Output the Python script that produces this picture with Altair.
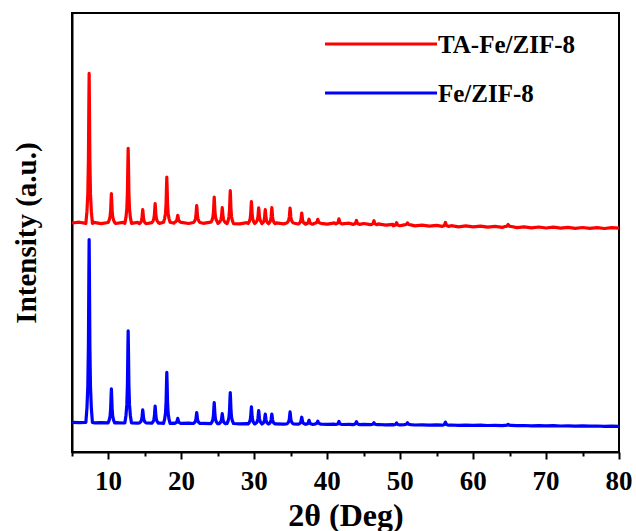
import altair as alt
import pandas as pd

# ---------------- data ----------------
series_names = ["TA-Fe/ZIF-8", "Fe/ZIF-8"]
series_colors = ["#ff0000", "#0000ff"]

x_ticks = [5, 10, 15, 20, 25, 30, 35, 40, 45, 50, 55, 60, 65, 70, 75, 80]
x_labels = [10, 20, 30, 40, 50, 60, 70, 80]

# diffraction peak positions (2theta, deg) and heights above baseline (a.u.)
peak_pos = [7.35, 10.4, 12.7, 14.7, 16.4, 18.0, 19.5, 22.1, 24.5, 25.6, 26.7,
            29.6, 30.6, 31.5, 32.4, 34.9, 36.5, 37.5, 38.7, 41.6, 44.0, 46.4,
            49.5, 51.0, 56.2, 64.8]
red_height = [150, 29, 75, 14, 19, 45, 7, 17, 25, 15, 33,
              22, 15, 14, 16, 15, 11, 5, 4, 5, 4, 4,
              3, 2, 4, 2]
blue_height = [183, 34, 92, 13, 17, 51, 5, 11, 21, 10, 31,
               17, 13, 10, 10, 12, 7, 4, 3, 3, 3, 2,
               2, 2, 3, 1]

# peak profile (offset in deg, fraction of height)
peak_offsets = [-0.45, -0.3, -0.18, -0.1, -0.04, 0.0, 0.04, 0.1, 0.18, 0.3, 0.45]
peak_profile = [0.0, 0.08, 0.2, 0.42, 0.8, 1.0, 0.8, 0.42, 0.2, 0.08, 0.0]

# baselines, one value per degree from 5 to 80
base_start = 5
red_base = [229.0, 229.8, 228.6, 229.6, 228.4, 229.5, 228.5, 229.7, 228.7, 229.6,
            228.3, 229.4, 228.6, 229.8, 228.8, 229.7, 228.5, 229.5, 228.7, 229.8,
            228.6, 229.4, 228.4, 228.2, 229.3, 228.5, 229.2, 228.3, 229.1, 228.1,
            229.0, 228.0, 228.8, 227.8, 228.7, 227.8, 229.1, 228.1, 228.8, 227.6,
            228.5, 227.3, 228.1, 226.8, 227.6, 226.3, 227.1, 226.1, 226.8, 225.8,
            226.6, 225.6, 226.3, 225.2, 226.1, 225.1, 225.9, 224.8, 225.6, 224.6,
            225.5, 224.4, 225.2, 224.2, 225.0, 224.0, 224.8, 223.9, 224.7, 223.7,
            224.5, 223.6, 224.4, 223.5, 224.3, 223.8]
blue_base = [29.6, 29.3, 29.5, 29.2, 29.4, 29.1, 29.3, 29.0, 29.2, 28.9,
             29.1, 28.8, 29.0, 28.7, 28.9, 28.6, 28.8, 28.5, 28.7, 28.4,
             28.6, 28.3, 28.5, 28.2, 28.4, 28.1, 28.3, 28.0, 28.2, 27.9,
             28.1, 27.8, 28.0, 27.7, 27.9, 27.6, 27.8, 27.5, 27.7, 27.4,
             27.6, 27.3, 27.5, 27.2, 27.4, 27.1, 27.3, 27.0, 27.2, 26.9,
             27.1, 26.8, 27.0, 26.7, 26.9, 26.6, 26.8, 26.5, 26.7, 26.4,
             26.6, 26.3, 26.5, 26.2, 26.4, 26.1, 26.3, 26.0, 26.2, 25.9,
             26.1, 25.8, 26.0, 25.7, 25.9, 25.6]


def build(name, base, heights):
    rows = []
    half = max(abs(o) for o in peak_offsets)
    for i, b in enumerate(base):
        x = base_start + i
        if all(abs(x - p) > half for p in peak_pos):
            rows.append((float(x), b))
    for p, h in zip(peak_pos, heights):
        b0 = base[int(round(p)) - base_start]
        for o, f in zip(peak_offsets, peak_profile):
            rows.append((p + o, b0 + f * h))
    rows.sort()
    return pd.DataFrame({
        "x": [r[0] for r in rows],
        "y": [r[1] for r in rows],
        "series": name,
        "order": list(range(len(rows))),
    })


df = pd.concat([build(series_names[0], red_base, red_height),
                build(series_names[1], blue_base, blue_height)],
               ignore_index=True)

FONT = "Liberation Serif"

x_scale = alt.Scale(domain=[5, 80], nice=False, zero=False)
y_scale = alt.Scale(domain=[0, 439], nice=False, zero=False)

x_axis = alt.Axis(
    values=x_ticks,
    tickSize={"condition": {"test": "datum.value % 10 === 0", "value": 7}, "value": 4},
    tickWidth=2, tickColor="black",
    domainColor="black", domainWidth=2, grid=False,
    labels=False,
    title="2θ (Deg)", titleFont=FONT, titleFontSize=32,
    titleFontWeight="bold", titleColor="black", titlePadding=40,
)
y_axis = alt.Axis(
    labels=False, ticks=False, grid=False,
    domainColor="black", domainWidth=2,
    title="Intensity (a.u.)", titleFont=FONT, titleFontSize=29,
    titleFontWeight="bold", titleColor="black", titlePadding=31,
)

lines = alt.Chart(df).mark_line(strokeWidth=3.2, strokeJoin="round").encode(
    x=alt.X("x:Q", scale=x_scale, axis=x_axis, title="2θ (Deg)"),
    y=alt.Y("y:Q", scale=y_scale, axis=y_axis, title="Intensity (a.u.)"),
    color=alt.Color("series:N", scale=alt.Scale(domain=series_names, range=series_colors),
                    legend=None),
    order="order:Q",
)

tick_labels = alt.Chart(pd.DataFrame({"x": x_labels})).mark_text(
    align="center", baseline="alphabetic", font=FONT, fontSize=27,
    fontWeight="bold", color="black").encode(
    x=alt.X("x:Q", scale=x_scale, axis=x_axis, title="2θ (Deg)"),
    y=alt.value(477),
    text=alt.Text("x:Q", format="d"),
)

leg_df_red = pd.DataFrame({"name": [series_names[0]]})
leg_df_blue = pd.DataFrame({"name": [series_names[1]]})

rule_red = alt.Chart(leg_df_red).mark_rule(color=series_colors[0], strokeWidth=3).encode(
    x=alt.value(253), x2=alt.value(365), y=alt.value(31))
rule_blue = alt.Chart(leg_df_blue).mark_rule(color=series_colors[1], strokeWidth=3).encode(
    x=alt.value(253), x2=alt.value(365), y=alt.value(80))
text_red = alt.Chart(leg_df_red).mark_text(
    align="left", baseline="middle", font=FONT, fontSize=25, fontWeight="bold",
    color="black").encode(x=alt.value(366), y=alt.value(32), text="name:N")
text_blue = alt.Chart(leg_df_blue).mark_text(
    align="left", baseline="middle", font=FONT, fontSize=25, fontWeight="bold",
    color="black").encode(x=alt.value(366), y=alt.value(81), text="name:N")

chart = alt.layer(lines, tick_labels, rule_red, rule_blue, text_red, text_blue).properties(
    width=547, height=439,
    autosize=alt.AutoSizeParams(type="none"),
    padding={"left": 72, "top": 13, "right": 17, "bottom": 79},
    background="white",
).configure_view(stroke="black", strokeWidth=2)

chart.save("out.html", embed_options={"renderer": "svg", "actions": False})
